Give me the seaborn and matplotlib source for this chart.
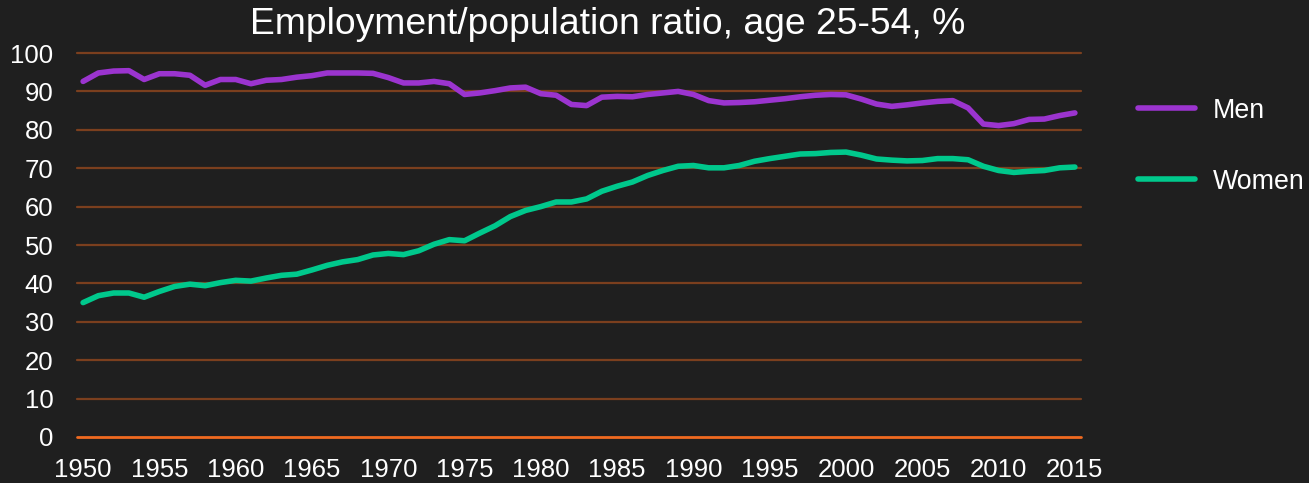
import numpy as np
import pandas as pd
import matplotlib
matplotlib.use('Agg')
import matplotlib.pyplot as plt
import seaborn as sns

years = list(range(1950, 2016))
men = [92.6, 94.8, 95.3, 95.4, 93.1, 94.6, 94.6, 94.2, 91.6, 93.1,
       93.1, 92.0, 92.9, 93.1, 93.7, 94.1, 94.8, 94.8, 94.8, 94.7,
       93.6, 92.2, 92.2, 92.6, 92.0, 89.2, 89.6, 90.2, 90.9, 91.1,
       89.4, 89.0, 86.6, 86.3, 88.5, 88.7, 88.6, 89.2, 89.6, 90.0,
       89.2, 87.6, 87.0, 87.1, 87.3, 87.7, 88.1, 88.6, 89.0, 89.2,
       89.1, 88.0, 86.7, 86.1, 86.5, 87.0, 87.4, 87.6, 85.7, 81.5,
       81.1, 81.6, 82.7, 82.8, 83.7, 84.4]
women = [35.0, 36.8, 37.5, 37.5, 36.4, 37.9, 39.2, 39.8, 39.4, 40.2,
         40.8, 40.6, 41.4, 42.1, 42.4, 43.5, 44.7, 45.6, 46.2, 47.4,
         47.8, 47.5, 48.5, 50.2, 51.4, 51.1, 53.1, 55.0, 57.4, 59.0,
         60.0, 61.2, 61.2, 62.0, 64.0, 65.3, 66.4, 68.1, 69.4, 70.5,
         70.7, 70.1, 70.1, 70.7, 71.8, 72.5, 73.1, 73.7, 73.8, 74.1,
         74.2, 73.4, 72.4, 72.1, 71.9, 72.0, 72.5, 72.5, 72.2, 70.5,
         69.4, 68.9, 69.2, 69.4, 70.1, 70.3]
series = ['Men', 'Women']
colors = ['#9b34cf', '#00c88c']
title = 'Employment/population ratio, age 25-54, %'

df = pd.DataFrame({'year': years * 2,
                   'value': men + women,
                   'sex': ['Men'] * len(years) + ['Women'] * len(years)})

bg = '#1f1f1f'
sns.set_theme(style='dark', rc={'axes.facecolor': bg, 'figure.facecolor': bg})
plt.rcParams['font.family'] = ['Liberation Sans', 'DejaVu Sans']

fig = plt.figure(figsize=(13.09, 4.83), dpi=100)
ax = fig.add_axes([77/1309, 1-437/483, (1081-77)/1309, (437-53)/483])

# brown gridlines, orange zero line
for y in range(10, 101, 10):
    ax.axhline(y, color='#7b3f1e', lw=1.6, zorder=1, clip_on=False)
ax.axhline(0, color='#f06a20', lw=2, zorder=1, clip_on=False)

sns.lineplot(data=df, x='year', y='value', hue='sex', hue_order=series,
             palette=colors, lw=4, ax=ax, zorder=3)
for l in ax.lines:
    l.set_solid_capstyle('round')

ax.set_xlim(1949.6, 2015.4)
ax.set_ylim(0, 100)
ax.set_xticks(range(1950, 2016, 5))
ax.set_yticks(range(0, 101, 10))
ax.tick_params(colors='white', labelsize=18.5, length=0)
ax.tick_params(axis='y', pad=17)
ax.tick_params(axis='x', pad=15)
ax.set_xlabel('')
ax.set_ylabel('')
ax.grid(False)
for s in ax.spines.values():
    s.set_visible(False)

fig.text(608/1309, 1-25/483, title, color='white', fontsize=26.8,
         ha='center', va='center')

leg = ax.legend(loc='upper left', bbox_to_anchor=(1.046, 0.912), frameon=False,
                fontsize=19.3, handlelength=2.13, handletextpad=0.67,
                labelspacing=1.68, borderaxespad=0)
for t in leg.get_texts():
    t.set_color('white')
for h in leg.get_lines():
    h.set_linewidth(4)

fig.savefig('out.png', dpi=100, facecolor=bg)
